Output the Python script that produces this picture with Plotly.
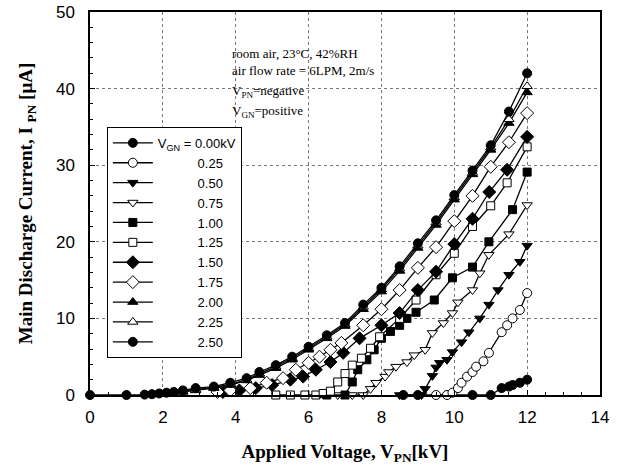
import plotly.graph_objects as go

# V_GN series (V_PN in kV, I_PN in uA)
labels = ['V<sub>GN</sub> = 0.00kV', '0.25', '0.50', '0.75', '1.00', '1.25',
          '1.50', '1.75', '2.00', '2.25', '2.50']

x_000 = [8.6, 9.0, 10.5, 11.0, 11.3, 11.5, 11.6, 11.8, 12.0]
y_000 = [0, 0, 0, 0, 0.9, 1.1, 1.3, 1.6, 2.0]

x_025 = [9.5, 9.8, 9.95, 10.1, 10.2, 10.35, 10.5, 10.6, 10.8, 10.95, 11.3, 11.45, 11.6, 11.8, 12.0]
y_025 = [0, 0, 0.3, 0.9, 1.6, 2.4, 3.0, 3.7, 4.4, 5.5, 8.2, 9.1, 10.0, 11.1, 13.3]

x_050 = [8.5, 9.1, 9.2, 9.4, 9.5, 9.6, 9.8, 9.95, 10.2, 10.4, 10.7, 10.95, 11.2, 11.5, 11.8, 12.0]
y_050 = [0, 0, 0.8, 2.5, 3.6, 4.2, 4.6, 5.6, 6.9, 8.2, 10.0, 11.8, 13.7, 15.7, 17.4, 19.5]

x_075 = [6.8, 7.2, 7.5, 7.7, 7.85, 8.1, 8.2, 8.4, 8.7, 8.9, 9.2, 9.4, 9.7, 9.95, 10.1, 10.5, 10.7, 10.95, 11.5, 12.0]
y_075 = [0, 0, 0, 0.8, 1.6, 2.4, 3.0, 3.7, 4.3, 5.2, 5.9, 8.1, 9.4, 10.7, 12.1, 13.7, 15.9, 18.3, 21.0, 24.8]

x_100 = [6.5, 7.0, 7.2, 7.35, 7.6, 7.8, 8.0, 8.25, 8.5, 8.7, 8.95, 9.45, 9.95, 10.5, 10.95, 11.6, 12.0]
y_100 = [0, 0, 1.7, 3.3, 4.6, 5.9, 7.4, 8.3, 9.1, 10.0, 10.8, 12.4, 15.3, 16.7, 20.0, 24.2, 29.1]

x_125 = [5.1, 5.5, 5.9, 6.2, 6.4, 6.6, 6.8, 7.0, 7.2, 7.45, 7.7, 7.95, 8.5, 8.95, 9.5, 10.0, 10.5, 11.0, 11.45, 12.0]
y_125 = [0, 0, 0, 0, 0.2, 0.5, 1.7, 2.8, 3.9, 4.8, 6.1, 7.6, 10.0, 12.4, 15.7, 18.5, 22.0, 24.7, 27.7, 32.4]

x_150 = [3.65, 4.1, 4.55, 5.0, 5.5, 5.85, 6.2, 6.6, 6.95, 7.4, 8.0, 8.5, 9.0, 9.5, 10.0, 10.5, 10.96, 11.45, 12.0]
y_150 = [0.4, 0.6, 0.9, 1.3, 2.0, 2.4, 3.3, 4.3, 5.5, 7.4, 9.1, 10.7, 13.7, 16.1, 19.7, 23.0, 26.5, 29.4, 33.7]

x_175 = [3.5, 3.85, 4.4, 4.85, 5.3, 5.65, 6.0, 6.3, 6.6, 6.9, 7.5, 8.0, 8.5, 9.0, 9.5, 10.0, 10.5, 11.0, 11.5, 12.0]
y_175 = [0.4, 0.6, 0.9, 1.6, 2.2, 3.3, 4.2, 5.0, 5.9, 6.8, 9.1, 11.2, 13.7, 16.6, 19.3, 22.7, 26.0, 29.8, 33.0, 36.8]

x_top = [1.7, 2.1, 2.55, 2.9, 3.4, 3.85, 4.3, 4.65, 5.1, 5.55, 6.0, 6.5, 7.0, 7.5, 8.0, 8.5, 9.0, 9.5, 10.0, 10.5, 11.0, 11.5, 12.0]
y_200 = [0.1, 0.2, 0.4, 0.6, 0.9, 1.3, 1.9, 2.6, 3.5, 4.6, 5.9, 7.4, 9.0, 11.2, 13.5, 16.2, 19.2, 22.2, 25.5, 28.8, 32.0, 35.5, 39.5]
y_225 = [0.1, 0.2, 0.5, 0.7, 1.0, 1.4, 2.0, 2.8, 3.7, 4.8, 6.1, 7.6, 9.2, 11.5, 13.8, 16.5, 19.5, 22.5, 25.8, 29.0, 32.3, 36.0, 40.3]

x_250 = [0, 1.0, 1.5, 1.7, 1.9, 2.1, 2.3, 2.55, 2.9, 3.4, 3.85, 4.3, 4.65, 5.1, 5.55, 6.0, 6.5, 7.0, 7.5, 8.0, 8.5, 9.0, 9.5, 10.0, 10.5, 11.0, 11.5, 12.0]
y_250 = [0, 0, 0.05, 0.1, 0.2, 0.3, 0.4, 0.6, 0.9, 1.1, 1.6, 2.2, 3.0, 3.9, 5.0, 6.3, 7.8, 9.4, 11.8, 14.0, 16.8, 19.8, 22.8, 26.1, 29.3, 32.6, 37.0, 42.0]

xs = [x_000, x_025, x_050, x_075, x_100, x_125, x_150, x_175, x_top, x_top, x_250]
ys = [y_000, y_025, y_050, y_075, y_100, y_125, y_150, y_175, y_200, y_225, y_250]
symbols = ['circle', 'circle', 'triangle-down', 'triangle-down', 'square', 'square',
           'diamond', 'diamond', 'triangle-up', 'triangle-up', 'circle']
filled = [True, False, True, False, True, False, True, False, True, False, True]
sizes = [9, 9, 9, 9, 8, 8, 10, 10, 9, 9, 9]

fig = go.Figure()
for i in range(len(labels)):
    name = labels[i] if i == 0 else '\u00a0' * 11 + labels[i]
    fig.add_trace(go.Scatter(
        x=xs[i], y=ys[i], name=name, mode='lines+markers',
        line=dict(color='black', width=1.3),
        marker=dict(symbol=symbols[i], size=sizes[i],
                    color='black' if filled[i] else 'white',
                    line=dict(color='black', width=1)),
        cliponaxis=False))

notes = ['room air, 23°C, 42%RH', 'air flow rate = 6LPM, 2m/s',
         'V<sub>PN</sub>=negative', 'V<sub>GN</sub>=positive']
note_y = [0.891, 0.846, 0.793, 0.741]
for t, yy in zip(notes, note_y):
    fig.add_annotation(text=t, x=0.275, y=yy, xref='paper', yref='paper',
                       xanchor='left', yanchor='middle', showarrow=False,
                       font=dict(family='Liberation Serif', size=13, color='black'))

axis_common = dict(showline=True, linecolor='black', linewidth=1.5, mirror=True,
                   ticks='inside', ticklen=5, tickcolor='black',
                   showgrid=True, gridcolor='#777', griddash='dot', gridwidth=1,
                   zeroline=False, automargin=False,
                   tickfont=dict(family='Arial', size=17, color='black'))

fig.update_xaxes(range=[0, 14], dtick=2, ticklabelstandoff=6,
                 minor=dict(dtick=0.5, ticks='inside', ticklen=3, tickcolor='black', showgrid=False),
                 title=dict(text='Applied Voltage, V<sub>PN</sub>[kV]', standoff=19,
                            font=dict(family='Liberation Serif', size=19, color='black', weight='bold')),
                 **axis_common)
fig.update_yaxes(range=[0, 50], dtick=10, ticklabelstandoff=10,
                 minor=dict(dtick=2, ticks='inside', ticklen=3, tickcolor='black', showgrid=False),
                 title=dict(text='Main Discharge Current, I <sub>PN</sub> [μA]', standoff=18,
                            font=dict(family='Liberation Serif', size=19, color='black', weight='bold')),
                 **axis_common)

fig.update_layout(
    width=626, height=472,
    margin=dict(l=90, r=26, t=12, b=77),
    plot_bgcolor='white', paper_bgcolor='white',
    legend=dict(x=0.033, y=0.70, xanchor='left', yanchor='top',
                bgcolor='white', bordercolor='black', borderwidth=1,
                itemwidth=40, tracegroupgap=0,
                font=dict(family='Arial', size=13, color='black')),
)

# page body has a default margin; drop it so the figure sits at 0,0
fig.write_html("out.html", config={'displayModeBar': False},
               post_script="document.body.style.margin = '0';")
